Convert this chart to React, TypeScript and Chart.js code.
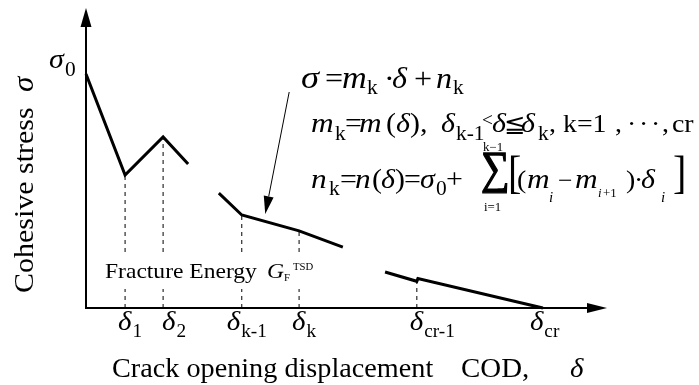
import { useEffect, useRef } from "react";
import { Chart, registerables } from "chart.js";

Chart.register(...registerables);

// ---- Data (schematic units: x = crack opening displacement, y = cohesive stress) ----
const segment1X = [0, 7.5, 14.8, 19.6];
const segment1Y = [78, 44.3, 57, 48];
const segment2X = [25.5, 29.9, 40.9, 49.3];
const segment2Y = [38.3, 31, 25.7, 20.3];
const segment3X = [57.4, 63.5, 63.7, 87.7];
const segment3Y = [12, 8.9, 9.8, 0];

const tickValues = [7.5, 14.8, 29.9, 40.9, 63.5, 87.7];
const tickSubscripts = ["1", "2", "k-1", "k", "cr-1", "cr"];
const guideX = [7.5, 14.8, 29.9, 40.9, 63.5];
const guideTop = [44.3, 57, 31, 25.7, 8.9];
const sigma0Value = 78;
const pointerFrom = [39, 72];
const pointerTo = [34.4, 31.3];

// ---- styling helpers ----
const SERIF = '"Liberation Serif", "Times New Roman", "DejaVu Serif", serif';
const font = (size: number, italic = false) =>
  `${italic ? "italic " : ""}${size}px ${SERIF}`;
const STRETCH = 1.07;

type Run = { t: string; x: number; y: number; s: number; i?: boolean; k?: number };

function drawText(
  ctx: CanvasRenderingContext2D,
  t: string,
  x: number,
  y: number,
  s: number,
  italic = false,
  k = STRETCH
) {
  ctx.save();
  ctx.font = font(s, italic);
  ctx.translate(x, y);
  ctx.scale(k, 1);
  ctx.fillText(t, 0, 0);
  ctx.restore();
  ctx.font = font(s, italic);
  return ctx.measureText(t).width * k;
}

function drawRuns(ctx: CanvasRenderingContext2D, runs: Run[]) {
  for (const r of runs) drawText(ctx, r.t, r.x, r.y, r.s, !!r.i, r.k ?? STRETCH);
}

function drawFit(
  ctx: CanvasRenderingContext2D,
  text: string,
  size: number,
  left: number,
  top: number,
  right: number,
  bottom: number,
  bold = 0
) {
  ctx.save();
  ctx.font = font(size);
  const m = ctx.measureText(text);
  const gl = -m.actualBoundingBoxLeft;
  const gr = m.actualBoundingBoxRight;
  const gt = -m.actualBoundingBoxAscent;
  const gb = m.actualBoundingBoxDescent;
  const sx = (right - left) / Math.max(1, gr - gl);
  const sy = (bottom - top) / Math.max(1, gb - gt);
  ctx.translate(left, top);
  ctx.scale(sx, sy);
  ctx.fillText(text, -gl, -gt);
  if (bold > 0) {
    ctx.lineWidth = bold;
    ctx.strokeStyle = "#000";
    ctx.strokeText(text, -gl, -gt);
  }
  ctx.restore();
}

const tickLabelShift = [-7, -1, -15, -7, -7, -13];

const axesPlugin = {
  id: "axesArrows",
  beforeDatasetsDraw(chart: any) {
    const { ctx, chartArea: a } = chart;
    ctx.save();
    ctx.strokeStyle = "#000";
    ctx.fillStyle = "#000";
    ctx.lineWidth = 2;
    // x axis
    ctx.beginPath();
    ctx.moveTo(a.left - 1, a.bottom);
    ctx.lineTo(a.right - 16, a.bottom);
    ctx.stroke();
    ctx.beginPath();
    ctx.moveTo(a.right, a.bottom);
    ctx.lineTo(a.right - 20, a.bottom - 5);
    ctx.lineTo(a.right - 20, a.bottom + 5);
    ctx.closePath();
    ctx.fill();
    // y axis
    ctx.beginPath();
    ctx.moveTo(a.left, a.bottom + 1);
    ctx.lineTo(a.left, a.top + 16);
    ctx.stroke();
    ctx.beginPath();
    ctx.moveTo(a.left, a.top);
    ctx.lineTo(a.left - 5.5, a.top + 19);
    ctx.lineTo(a.left + 5.5, a.top + 19);
    ctx.closePath();
    ctx.fill();
    ctx.restore();
  },
};

const annotationPlugin = {
  id: "annotations",
  afterDatasetsDraw(chart: any) {
    const { ctx } = chart;
    const xs = chart.scales.x;
    const ys = chart.scales.y;
    ctx.save();
    ctx.fillStyle = "#000";
    ctx.textBaseline = "alphabetic";
    ctx.textAlign = "left";

    // Fracture energy label on a white box (interrupts guide lines)
    ctx.fillStyle = "#fff";
    ctx.fillRect(100, 252, 222, 37);
    ctx.fillStyle = "#000";
    drawRuns(ctx, [
      { t: "Fracture Energy", x: 105, y: 278, s: 22 },
      { t: "G", x: 267, y: 278, s: 22, i: true },
      { t: "F", x: 284, y: 281, s: 10 },
      { t: "TSD", x: 293, y: 270, s: 10 },
    ]);

    // tick labels δ_i
    tickValues.forEach((v, i) => {
      const px = xs.getPixelForValue(v) + tickLabelShift[i];
      const w = drawText(ctx, "δ", px, 330, 27, true);
      drawText(ctx, tickSubscripts[i], px + w + 1, 337, 18);
    });

    // sigma_0 label
    const s0y = ys.getPixelForValue(sigma0Value);
    drawRuns(ctx, [
      { t: "σ", x: 49, y: s0y - 6, s: 28, i: true },
      { t: "0", x: 65, y: s0y + 2, s: 20 },
    ]);

    // axis titles
    drawRuns(ctx, [
      { t: "Crack opening displacement", x: 112, y: 377, s: 27, k: 1.045 },
      { t: "COD,", x: 461, y: 377, s: 27 },
      { t: "δ", x: 570, y: 377, s: 27, i: true },
    ]);
    ctx.save();
    ctx.translate(33, 293);
    ctx.rotate(-Math.PI / 2);
    drawText(ctx, "Cohesive stress", 0, 0, 28);
    drawText(ctx, "σ", 201, 0, 29, true);
    ctx.restore();

    // pointer arrow
    const fx = xs.getPixelForValue(pointerFrom[0]);
    const fy = ys.getPixelForValue(pointerFrom[1]);
    const tx = xs.getPixelForValue(pointerTo[0]);
    const ty = ys.getPixelForValue(pointerTo[1]);
    const ang = Math.atan2(ty - fy, tx - fx);
    const hl = 18;
    const hw = 5;
    const bx = tx - hl * Math.cos(ang);
    const by = ty - hl * Math.sin(ang);
    ctx.strokeStyle = "#000";
    ctx.lineWidth = 1;
    ctx.beginPath();
    ctx.moveTo(fx, fy);
    ctx.lineTo(bx, by);
    ctx.stroke();
    ctx.beginPath();
    ctx.moveTo(tx, ty);
    ctx.lineTo(bx + hw * Math.sin(ang), by - hw * Math.cos(ang));
    ctx.lineTo(bx - hw * Math.sin(ang), by + hw * Math.cos(ang));
    ctx.closePath();
    ctx.fill();

    // formula line 1
    drawRuns(ctx, [
      { t: "σ", x: 301, y: 88, s: 31, i: true, k: 1.18 },
      { t: "=", x: 325, y: 88, s: 30 },
      { t: "m", x: 342, y: 88, s: 32, i: true },
      { t: "k", x: 367, y: 94, s: 20 },
      { t: "·", x: 384, y: 88, s: 30 },
      { t: "δ", x: 392, y: 88, s: 30, i: true },
      { t: "+", x: 414, y: 88, s: 30 },
      { t: "n", x: 436, y: 88, s: 30, i: true },
      { t: "k", x: 453, y: 94, s: 20 },
    ]);

    // formula line 2
    drawRuns(ctx, [
      { t: "m", x: 311, y: 132, s: 28, i: true, k: 1.12 },
      { t: "k", x: 335, y: 140, s: 20 },
      { t: "=", x: 345, y: 132, s: 28 },
      { t: "m", x: 359, y: 132, s: 28, i: true, k: 1.12 },
      { t: "(", x: 386, y: 132, s: 28 },
      { t: "δ", x: 396, y: 132, s: 28, i: true },
      { t: "),", x: 410, y: 132, s: 28 },
      { t: "δ", x: 441, y: 132, s: 28, i: true },
      { t: "k-1", x: 456, y: 140, s: 20 },
      { t: "<", x: 482, y: 126, s: 18 },
      { t: "δ", x: 492, y: 132, s: 28, i: true },
      { t: "≦", x: 504, y: 132, s: 24 },
      { t: "δ", x: 521, y: 132, s: 28, i: true },
      { t: "k", x: 538, y: 140, s: 20 },
      { t: ",", x: 549, y: 132, s: 26 },
      { t: "k=1", x: 563, y: 132, s: 26 },
      { t: ",", x: 615, y: 132, s: 26 },
      { t: "·", x: 627, y: 132, s: 26 },
      { t: "·", x: 639, y: 132, s: 26 },
      { t: "·", x: 651, y: 132, s: 26 },
      { t: ",", x: 662, y: 132, s: 26 },
      { t: "cr", x: 672, y: 132, s: 26 },
    ]);

    // formula line 3
    drawRuns(ctx, [
      { t: "n", x: 311, y: 188, s: 28, i: true, k: 1.12 },
      { t: "k", x: 329, y: 195, s: 20 },
      { t: "=", x: 340, y: 188, s: 28 },
      { t: "n", x: 355, y: 188, s: 28, i: true, k: 1.12 },
      { t: "(", x: 372, y: 188, s: 28 },
      { t: "δ", x: 381, y: 188, s: 28, i: true },
      { t: ")", x: 395, y: 188, s: 28 },
      { t: "=", x: 404, y: 188, s: 28 },
      { t: "σ", x: 420, y: 188, s: 28, i: true },
      { t: "0", x: 436, y: 195, s: 20 },
      { t: "+", x: 446, y: 188, s: 28 },
      { t: "k−1", x: 483, y: 151, s: 12 },
      { t: "i=1", x: 484, y: 211, s: 12 },
      { t: "(", x: 517, y: 188, s: 26 },
      { t: "m", x: 527, y: 188, s: 28, i: true, k: 1.12 },
      { t: "i", x: 549, y: 202, s: 14, i: true },
      { t: "−", x: 558, y: 188, s: 24 },
      { t: "m", x: 575, y: 188, s: 28, i: true, k: 1.12 },
      { t: "i", x: 598, y: 197, s: 12, i: true },
      { t: "+1", x: 603, y: 197, s: 12 },
      { t: ")", x: 626, y: 188, s: 26 },
      { t: "·", x: 634, y: 188, s: 26 },
      { t: "δ", x: 641, y: 188, s: 28, i: true },
      { t: "i", x: 661, y: 202, s: 14, i: true },
    ]);
    drawFit(ctx, "∑", 40, 482, 152, 507, 193, 1.2);
    drawFit(ctx, "[", 40, 510, 155, 520, 194);
    drawFit(ctx, "]", 40, 674, 155, 684, 194);

    ctx.restore();
  },
};

const toPoints = (xs: number[], ys: number[]) => xs.map((x, i) => ({ x, y: ys[i] }));

export default function App() {
  const canvasRef = useRef<HTMLCanvasElement | null>(null);

  useEffect(() => {
    if (!canvasRef.current) return;
    const curveStyle = {
      showLine: true,
      borderColor: "#000",
      backgroundColor: "#000",
      borderWidth: 3,
      pointRadius: 0,
      tension: 0,
      clip: false as any,
      borderJoinStyle: "miter" as const,
      borderCapStyle: "butt" as const,
    };
    const guides = guideX.map((gx, i) => ({
      data: [
        { x: gx, y: 0 },
        { x: gx, y: guideTop[i] },
      ],
      showLine: true,
      borderColor: "#000",
      borderWidth: 1,
      borderDash: [4, 4],
      pointRadius: 0,
      clip: false as any,
    }));
    const chart = new Chart(canvasRef.current, {
      type: "scatter",
      data: {
        datasets: [
          ...guides,
          { data: toPoints(segment1X, segment1Y), ...curveStyle },
          { data: toPoints(segment2X, segment2Y), ...curveStyle },
          { data: toPoints(segment3X, segment3Y), ...curveStyle },
        ] as any,
      },
      options: {
        animation: false,
        responsive: true,
        maintainAspectRatio: false,
        devicePixelRatio: 1,
        events: [],
        layout: { padding: { left: 86, right: 92, top: 8, bottom: 77 } },
        plugins: {
          legend: { display: false },
          tooltip: { enabled: false },
        },
        scales: {
          x: { type: "linear", min: 0, max: 100, display: false },
          y: { type: "linear", min: 0, max: 100, display: false },
        },
      },
      plugins: [axesPlugin, annotationPlugin],
    });
    return () => chart.destroy();
  }, []);

  return (
    <div
      style={{
        position: "absolute",
        left: 0,
        top: 0,
        width: 699,
        height: 385,
        background: "#fff",
      }}
    >
      <canvas ref={canvasRef} />
    </div>
  );
}
